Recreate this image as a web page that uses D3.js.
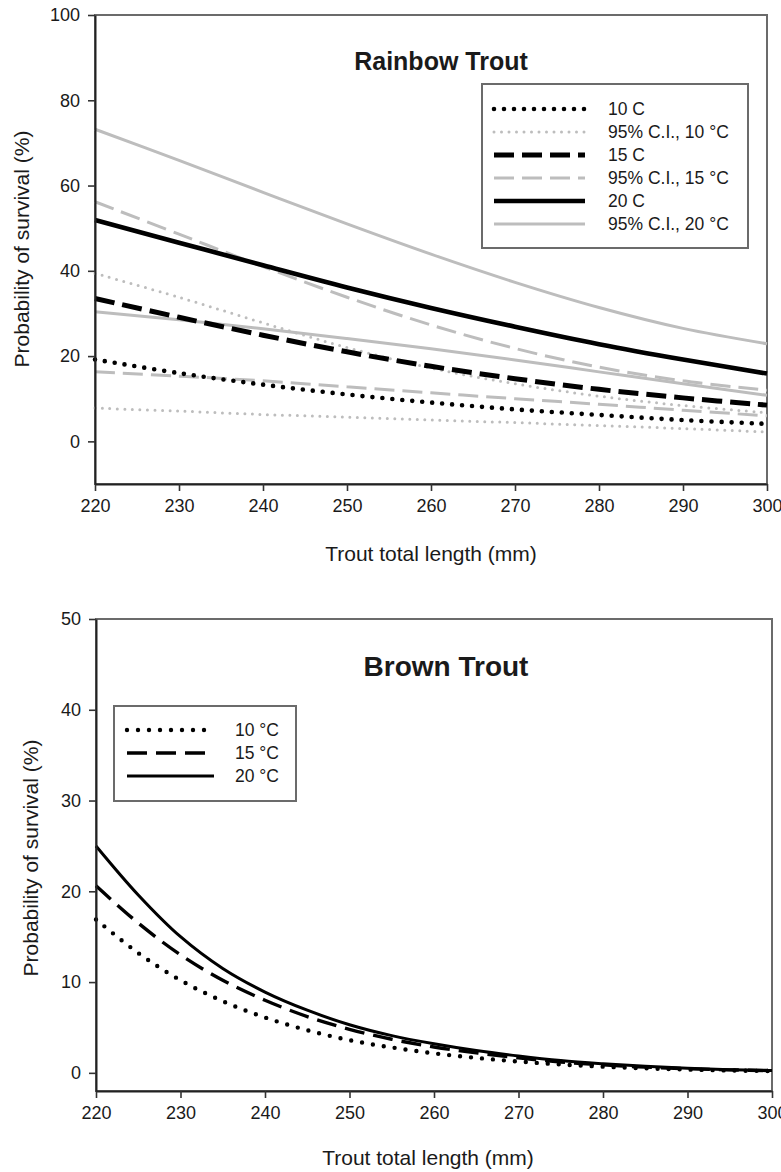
<!DOCTYPE html>
<html><head><meta charset="utf-8">
<script src="https://cdn.jsdelivr.net/npm/d3@7"></script>
<style>body{margin:0;background:#fff}svg{display:block}text{font-family:"Liberation Sans",Arial,sans-serif;fill:#1a1a1a}</style>
</head><body>
<svg id="c" width="781" height="1172"></svg>
<script>
// ---- Rainbow trout data (probability of survival, %) ----
const rbLengths = [220, 230, 240, 250, 260, 270, 280, 290, 300];
const rb10   = [19.2, 16.0, 13.3, 11.0, 9.1, 7.5, 6.2, 5.0, 4.1];
const rb10Lo = [7.8, 7.1, 6.3, 5.7, 5.0, 4.4, 3.7, 3.0, 2.2];
const rb10Hi = [39.4, 33.8, 27.8, 22.0, 17.2, 13.5, 10.6, 8.4, 6.7];
const rb15   = [33.5, 29.1, 24.9, 21.0, 17.6, 14.7, 12.2, 10.2, 8.5];
const rb15Lo = [16.3, 15.3, 14.2, 12.8, 11.4, 10.0, 8.7, 7.3, 6.0];
const rb15Hi = [56.2, 48.6, 41.0, 33.8, 27.3, 21.8, 17.4, 14.2, 12.0];
const rb20   = [51.9, 46.6, 41.3, 36.1, 31.3, 26.9, 22.8, 19.2, 15.9];
const rb20Lo = [30.4, 28.5, 26.4, 24.1, 21.7, 19.1, 16.3, 13.5, 10.8];
const rb20Hi = [73.2, 65.9, 58.4, 51.0, 43.9, 37.3, 31.4, 26.5, 22.9];
const rbYTicks = [0, 20, 40, 60, 80, 100];
const xTicks = [220, 230, 240, 250, 260, 270, 280, 290, 300];
const rbLegend = ["10 C", "95% C.I., 10 \u00B0C", "15 C", "95% C.I., 15 \u00B0C", "20 C", "95% C.I., 20 \u00B0C"];

// ---- Brown trout data ----
const btLengths = [220, 225, 230, 235, 240, 245, 250, 255, 260, 265, 270, 275, 280, 285, 290, 295, 300];
const bt10 = [16.9, 13.2, 10.2, 7.9, 6.1, 4.7, 3.6, 2.8, 2.15, 1.65, 1.25, 0.92, 0.68, 0.5, 0.36, 0.26, 0.2];
const bt15 = [20.6, 16.5, 13.0, 10.2, 8.0, 6.2, 4.8, 3.7, 2.85, 2.2, 1.65, 1.2, 0.88, 0.63, 0.45, 0.33, 0.25];
const bt20 = [25.0, 19.6, 15.0, 11.5, 8.9, 6.9, 5.3, 4.1, 3.2, 2.45, 1.85, 1.35, 1.0, 0.72, 0.5, 0.35, 0.25];
const btYTicks = [0, 10, 20, 30, 40, 50];
const btLegend = ["10 \u00B0C", "15 \u00B0C", "20 \u00B0C"];

const svg = d3.select("#c");

const styles = {
  dotBlack:  {stroke:"#000", w:4.6, dash:"0,10", cap:"round"},
  dotGray:   {stroke:"#bdbdbd", w:3, dash:"0,7.5", cap:"round"},
  dashBlack: {stroke:"#000", w:5, dash:"20,8", cap:"butt"},
  dashGray:  {stroke:"#bdbdbd", w:3, dash:"20,8", cap:"butt"},
  solidBlack:{stroke:"#000", w:4.6, dash:null, cap:"butt"},
  solidGray: {stroke:"#bdbdbd", w:3, dash:null, cap:"butt"}
};
const bStyles = {
  dot:  {stroke:"#000", w:4.4, dash:"0,11", cap:"round"},
  dash: {stroke:"#000", w:3.4, dash:"20,9", cap:"butt"},
  solid:{stroke:"#000", w:3, dash:null, cap:"butt"}
};

function applyStyle(sel, s){
  sel.attr("fill","none").attr("stroke", s.stroke).attr("stroke-width", s.w)
     .attr("stroke-linecap", s.cap);
  if (s.dash) sel.attr("stroke-dasharray", s.dash);
  return sel;
}

function panel(cfg){
  const x = d3.scaleLinear().domain([220,300]).range([cfg.x0, cfg.x1]);
  const y = d3.scaleLinear().domain(cfg.yDomain).range([cfg.yB, cfg.yT]);
  const g = svg.append("g");
  g.append("rect").attr("x", cfg.x0).attr("y", cfg.yT)
    .attr("width", cfg.x1 - cfg.x0).attr("height", cfg.yB - cfg.yT)
    .attr("fill","none").attr("stroke","#6b6b6b").attr("stroke-width",2);
  const line = d3.line().x(d => x(d[0])).y(d => y(d[1])).curve(d3.curveCatmullRom.alpha(0.5));
  cfg.series.forEach(s => {
    const pts = cfg.lengths.map((L,i) => [L, s.vals[i]]);
    applyStyle(g.append("path").attr("d", line(pts)), s.style);
  });
  const ax = g.append("g").attr("transform", `translate(0,${cfg.yB})`)
    .call(d3.axisBottom(x).tickValues(xTicks).tickFormat(d3.format("d")).tickSize(7).tickPadding(8).tickSizeOuter(0));
  const ay = g.append("g").attr("transform", `translate(${cfg.x0},0)`)
    .call(d3.axisLeft(y).tickValues(cfg.yTicks).tickFormat(d3.format("d")).tickSize(7).tickPadding(8).tickSizeOuter(0));
  [ax, ay].forEach(a => {
    a.select(".domain").attr("stroke","#222").attr("stroke-width",2);
    a.selectAll(".tick line").attr("stroke","#333").attr("stroke-width",1.6);
    a.selectAll(".tick text").attr("font-size",18).attr("fill","#222")
      .attr("font-family","Liberation Sans, Arial, sans-serif");
  });
  g.append("text").attr("x", cfg.titleX).attr("y", cfg.titleY).attr("text-anchor","middle")
    .attr("font-weight","bold").attr("font-size", cfg.titleSize).text(cfg.title);
  g.append("text").attr("x", cfg.xLabX).attr("y", cfg.xLabY).attr("text-anchor","middle")
    .attr("font-size",21).text("Trout total length (mm)");
  g.append("text").attr("transform", `translate(${cfg.yLabX},${cfg.yLabY}) rotate(-90)`)
    .attr("text-anchor","middle").attr("font-size",21).text("Probability of survival (%)");
  const L = cfg.legend;
  g.append("rect").attr("x", L.x).attr("y", L.y).attr("width", L.w).attr("height", L.h)
    .attr("fill","#fff").attr("stroke","#6b6b6b").attr("stroke-width",2);
  L.items.forEach((it, i) => {
    const yy = L.row0 + i * L.step;
    applyStyle(g.append("line").attr("x1", L.sx0).attr("x2", L.sx1).attr("y1", yy).attr("y2", yy), it.style);
    g.append("text").attr("x", L.tx).attr("y", yy).attr("dy","0.36em").attr("font-size",17.5).text(it.label);
  });
}

panel({
  x0: 95, x1: 767, yT: 15, yB: 484, yDomain: [-10, 100], yTicks: rbYTicks,
  lengths: rbLengths,
  series: [
    {vals: rb10Lo, style: styles.dotGray}, {vals: rb10Hi, style: styles.dotGray},
    {vals: rb15Lo, style: styles.dashGray}, {vals: rb15Hi, style: styles.dashGray},
    {vals: rb20Lo, style: styles.solidGray}, {vals: rb20Hi, style: styles.solidGray},
    {vals: rb10, style: styles.dotBlack}, {vals: rb15, style: styles.dashBlack},
    {vals: rb20, style: styles.solidBlack}
  ],
  title: "Rainbow Trout", titleX: 441, titleY: 70, titleSize: 25,
  xLabX: 431, xLabY: 561, yLabX: 29, yLabY: 249,
  legend: {x: 482, y: 84, w: 266, h: 164, row0: 109, step: 23, sx0: 494, sx1: 585, tx: 608,
    items: [
      {label: rbLegend[0], style: styles.dotBlack},
      {label: rbLegend[1], style: styles.dotGray},
      {label: rbLegend[2], style: styles.dashBlack},
      {label: rbLegend[3], style: styles.dashGray},
      {label: rbLegend[4], style: styles.solidBlack},
      {label: rbLegend[5], style: styles.solidGray}
    ]}
});

panel({
  x0: 96, x1: 772, yT: 619, yB: 1091, yDomain: [-2, 50], yTicks: btYTicks,
  lengths: btLengths,
  series: [
    {vals: bt10, style: bStyles.dot}, {vals: bt15, style: bStyles.dash}, {vals: bt20, style: bStyles.solid}
  ],
  title: "Brown Trout", titleX: 446, titleY: 676, titleSize: 28,
  xLabX: 428, xLabY: 1165, yLabX: 38, yLabY: 858,
  legend: {x: 114, y: 706, w: 182, h: 95, row0: 730, step: 23, sx0: 127, sx1: 214, tx: 235,
    items: [
      {label: btLegend[0], style: bStyles.dot},
      {label: btLegend[1], style: bStyles.dash},
      {label: btLegend[2], style: bStyles.solid}
    ]}
});
</script>
</body></html>
